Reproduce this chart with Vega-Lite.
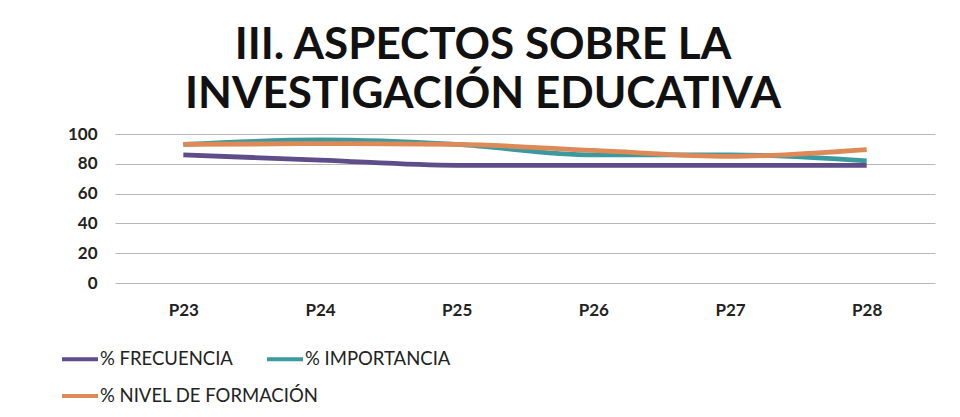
{
  "$schema": "https://vega.github.io/schema/vega-lite/v6.json",
  "width": 820,
  "height": 149,
  "autosize": "none",
  "padding": {"left": 115, "top": 134, "right": 25, "bottom": 134},
  "background": "white",
  "title": {
    "text": ["III. ASPECTOS SOBRE LA", "INVESTIGACIÓN EDUCATIVA"],
    "font": "Lato",
    "fontSize": 44,
    "fontWeight": "bold",
    "color": "#111111",
    "lineHeight": 49,
    "anchor": "middle",
    "dx": -42,
    "offset": 8
  },
  "data": {
    "values": [
      {"p": "P23", "serie": "% FRECUENCIA", "v": 86},
      {"p": "P24", "serie": "% FRECUENCIA", "v": 82.5},
      {"p": "P25", "serie": "% FRECUENCIA", "v": 79},
      {"p": "P26", "serie": "% FRECUENCIA", "v": 79},
      {"p": "P27", "serie": "% FRECUENCIA", "v": 79},
      {"p": "P28", "serie": "% FRECUENCIA", "v": 79},
      {"p": "P23", "serie": "% IMPORTANCIA", "v": 93},
      {"p": "P24", "serie": "% IMPORTANCIA", "v": 96},
      {"p": "P25", "serie": "% IMPORTANCIA", "v": 93},
      {"p": "P26", "serie": "% IMPORTANCIA", "v": 86},
      {"p": "P27", "serie": "% IMPORTANCIA", "v": 86},
      {"p": "P28", "serie": "% IMPORTANCIA", "v": 82},
      {"p": "P23", "serie": "% NIVEL DE FORMACIÓN", "v": 93},
      {"p": "P24", "serie": "% NIVEL DE FORMACIÓN", "v": 93.5},
      {"p": "P25", "serie": "% NIVEL DE FORMACIÓN", "v": 93},
      {"p": "P26", "serie": "% NIVEL DE FORMACIÓN", "v": 89},
      {"p": "P27", "serie": "% NIVEL DE FORMACIÓN", "v": 85},
      {"p": "P28", "serie": "% NIVEL DE FORMACIÓN", "v": 89.5}
    ]
  },
  "encoding": {
    "x": {
      "field": "p",
      "type": "nominal",
      "scale": {"type": "point", "padding": 0.5},
      "axis": {
        "title": null,
        "domain": false,
        "ticks": false,
        "grid": false,
        "labelAngle": 0,
        "labelFont": "Lato",
        "labelFontSize": 17,
        "labelFontWeight": "bold",
        "labelColor": "#222222",
        "labelPadding": 19
      }
    },
    "y": {
      "field": "v",
      "type": "quantitative",
      "scale": {"domain": [0, 100], "nice": false},
      "axis": {
        "title": null,
        "values": [0, 20, 40, 60, 80, 100],
        "domain": false,
        "ticks": false,
        "gridColor": "#b8b8b8",
        "gridWidth": 1.2,
        "labelFont": "Lato",
        "labelFontSize": 17,
        "labelFontWeight": "bold",
        "labelColor": "#222222",
        "labelPadding": 18
      }
    }
  },
  "layer": [
    {
      "transform": [{"filter": "datum.serie !== '% NIVEL DE FORMACIÓN'"}],
      "mark": {"type": "line", "strokeWidth": 4.8, "interpolate": "monotone"},
      "encoding": {
        "color": {
          "field": "serie",
          "type": "nominal",
          "scale": {
            "domain": ["% FRECUENCIA", "% IMPORTANCIA"],
            "range": ["#5f4d8a", "#3b9a9e"]
          },
          "legend": {
            "title": null,
            "orient": "none",
            "legendX": -55,
            "legendY": 205,
            "direction": "horizontal",
            "columnPadding": 26,
            "symbolType": "stroke",
            "symbolSize": 1296,
            "symbolStrokeWidth": 4,
            "symbolOffset": 0,
            "labelOffset": 0,
            "labelLimit": 400,
            "labelFont": "Lato",
            "labelFontSize": 18.5,
            "labelColor": "#222222"
          }
        }
      }
    },
    {
      "transform": [{"filter": "datum.serie === '% NIVEL DE FORMACIÓN'"}],
      "mark": {"type": "line", "strokeWidth": 4.8, "interpolate": "monotone"},
      "encoding": {
        "stroke": {
          "field": "serie",
          "type": "nominal",
          "scale": {
            "domain": ["% NIVEL DE FORMACIÓN"],
            "range": ["#dd8a58"]
          },
          "legend": {
            "title": null,
            "orient": "none",
            "legendX": -55,
            "legendY": 242,
            "direction": "horizontal",
            "symbolType": "stroke",
            "symbolSize": 1296,
            "symbolStrokeWidth": 4,
            "symbolOffset": 0,
            "labelOffset": 0,
            "labelLimit": 400,
            "labelFont": "Lato",
            "labelFontSize": 18.5,
            "labelColor": "#222222"
          }
        }
      }
    }
  ],
  "resolve": {"legend": {"color": "independent", "stroke": "independent"}},
  "config": {"view": {"stroke": null}}
}
